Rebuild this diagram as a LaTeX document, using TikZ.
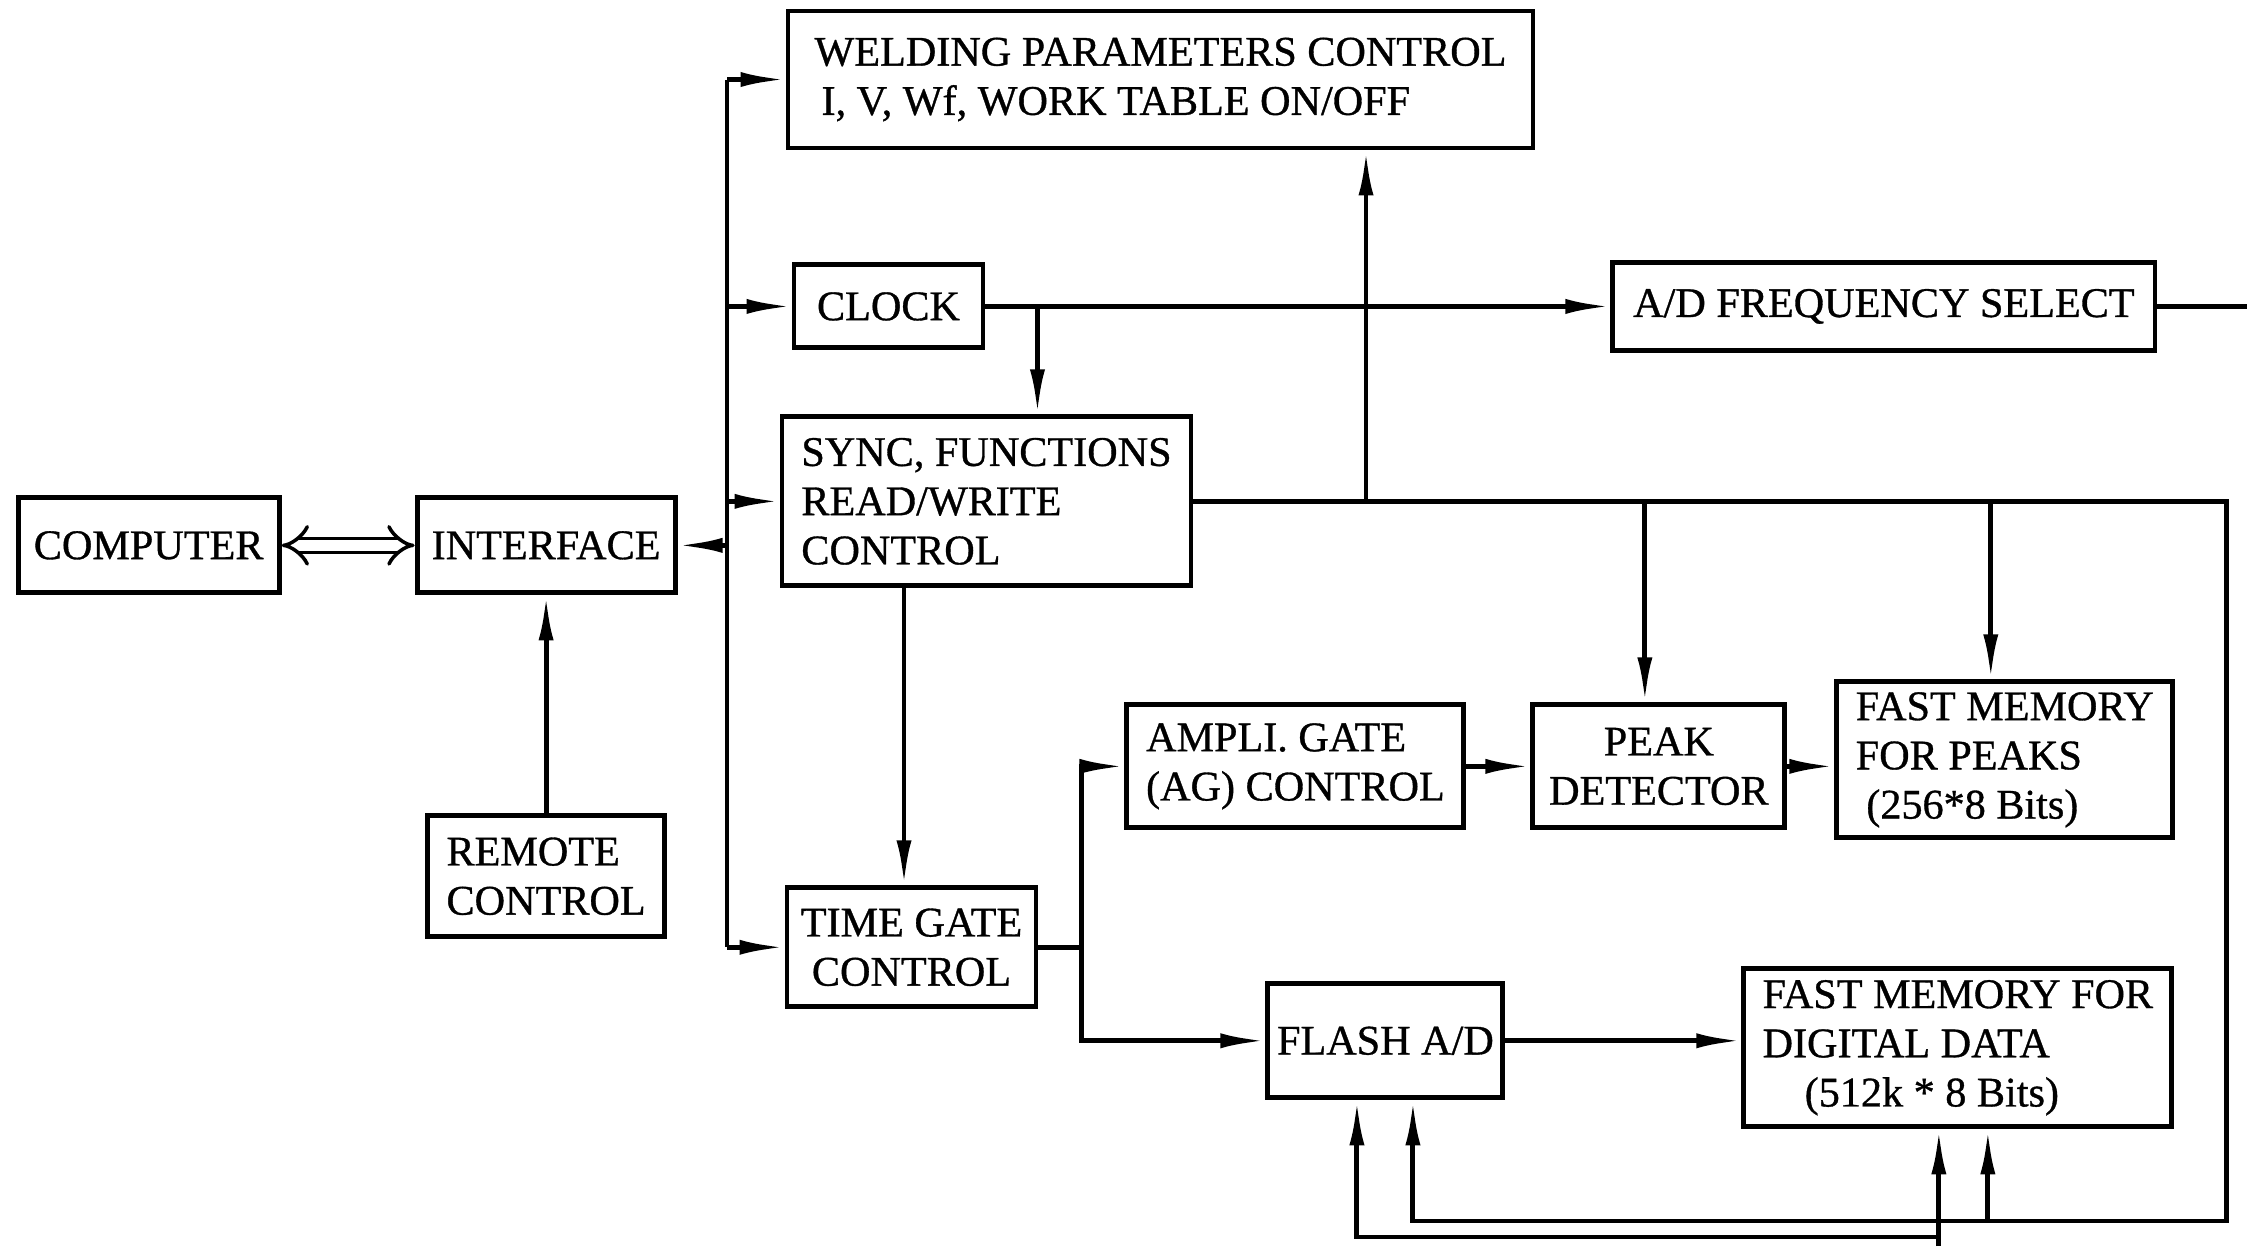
\documentclass[tikz,border=0pt]{standalone}
\usepackage{fontspec}
\setmainfont{Liberation Serif}
\newfontfamily\inkfont{Liberation Serif}[FakeBold=0.8]
\usetikzlibrary{arrows.meta, positioning, calc}
\tikzset{
  every picture/.style={line width=1.4pt},
  box/.style={draw, align=left, inner sep=2.5pt, font=\inkfont\fontsize{12}{14}\selectfont},
  arrow/.style={-{Latex[length=4.5mm, width=1.5mm]}},
  dlink/.style={double, double distance=3pt, line width=1pt, {Implies}-{Implies}},
}

\begin{document}
\begin{tikzpicture}
  \useasboundingbox (0,0) rectangle (22.47,-12.46);
  \node[box, minimum width=7.45cm, minimum height=1.37cm] (weld) at (11.605,-0.795) {WELDING PARAMETERS CONTROL\\ \,I, V, Wf, WORK TABLE ON/OFF};
  \node[box, minimum width=1.89cm, minimum height=0.83cm, below right=1.12cm and 0.06cm of weld.south west] (clock) {CLOCK};
  \node[box, minimum width=5.42cm, minimum height=0.88cm, right=6.25cm of clock] (adfreq) {A/D FREQUENCY SELECT};
  \node[box, minimum width=4.09cm, minimum height=1.69cm, below right=0.64cm and -0.12cm of clock.south west] (sync) {SYNC, FUNCTIONS\\READ/WRITE\\CONTROL};
  \node[box, minimum width=2.58cm, minimum height=0.95cm, left=1.02cm of sync, yshift=-4.4mm] (iface) {INTERFACE};
  \node[box, minimum width=2.61cm, minimum height=0.95cm, left=1.33cm of iface] (comp) {COMPUTER};
  \node[box, minimum width=2.37cm, minimum height=1.21cm, below=2.18cm of iface] (remote) {REMOTE\\CONTROL};
  \node[box, align=center, minimum width=2.49cm, minimum height=1.19cm, below right=2.97cm and 0.05cm of sync.south west] (tgate) {TIME GATE\\CONTROL};
  \node[box, minimum width=3.37cm, minimum height=1.23cm, above right=0.55cm and 0.86cm of tgate.north east] (ampli) {AMPLI. GATE\\(AG) CONTROL};
  \node[box, align=center, minimum width=2.52cm, minimum height=1.23cm, right=0.64cm of ampli] (peak) {PEAK\\DETECTOR};
  \node[box, minimum width=3.36cm, minimum height=1.56cm, right=0.47cm of peak, yshift=0.65mm] (fmpeak) {FAST MEMORY\\FOR PEAKS\\\ (256*8 Bits)};
  \node[box, minimum width=2.35cm, minimum height=1.14cm, below right=1.51cm and 1.41cm of ampli.south west] (flash) {FLASH A/D};
  \node[box, minimum width=4.28cm, minimum height=1.58cm, right=2.36cm of flash, yshift=-0.7mm] (fmdata) {FAST MEMORY FOR\\DIGITAL DATA\\\quad(512k * 8 Bits)};
  \coordinate (bus) at (7.27,-5.45);
  \coordinate (loopse) at (22.26,-12.21);
  \coordinate (lowy) at (0,-12.37);
  \coordinate (btm) at (0,-12.46);
  \coordinate (tgbr) at ([xshift=4.3mm]tgate.east);
  \draw (bus |- weld.west) -- (bus |- tgate.west);
  \draw[arrow] (bus |- weld.west) -- (weld.west);
  \draw[arrow] (bus |- clock.west) -- (clock.west);
  \draw[arrow] (bus |- sync.west) -- (sync.west);
  \draw[arrow] (bus |- tgate.west) -- (tgate.west);
  \draw[arrow] (bus |- iface.east) -- (iface.east);
  \draw[dlink] (comp) -- (iface);
  \draw[arrow] (remote) -- (iface);
  \draw[arrow] (clock.east) -- (clock.east -| adfreq.west);
  \draw[arrow] ([xshift=5.2mm]clock.east) -- ([xshift=5.2mm]clock.east |- sync.north);
  \draw (adfreq.east) -- ++(1,0);
  \draw[arrow] (sync.east) -| (loopse) -| ([xshift=2.75mm]flash.south);
  \draw[arrow] ([xshift=20.55mm]weld.south |- sync.east) -- ([xshift=20.55mm]weld.south);
  \draw[arrow] ([xshift=-1.4mm]peak.north |- sync.east) -- ([xshift=-1.4mm]peak.north);
  \draw[arrow] ([xshift=-1.4mm]fmpeak.north |- sync.east) -- ([xshift=-1.4mm]fmpeak.north);
  \draw[arrow] ([xshift=3mm]fmdata.south |- loopse) -- ([xshift=3mm]fmdata.south);
  \draw[arrow] ([xshift=-0.75mm]sync.south -| tgate.north) -- ([xshift=-0.75mm]tgate.north);
  \draw[arrow] (tgate.east) -- (tgbr) |- (ampli.west);
  \draw[arrow] (tgbr) |- (flash.west);
  \draw[arrow] (ampli) -- (peak);
  \draw[arrow] (peak.east) -- (peak.east -| fmpeak.west);
  \draw[arrow] (flash.east) -- (flash.east -| fmdata.west);
  \draw[arrow] ([xshift=-1.9mm]fmdata.south |- btm) -- ([xshift=-1.9mm]fmdata.south);
  \draw[arrow] ([xshift=-1.9mm]fmdata.south |- lowy) -| ([xshift=-2.85mm]flash.south);
\end{tikzpicture}
\end{document}
